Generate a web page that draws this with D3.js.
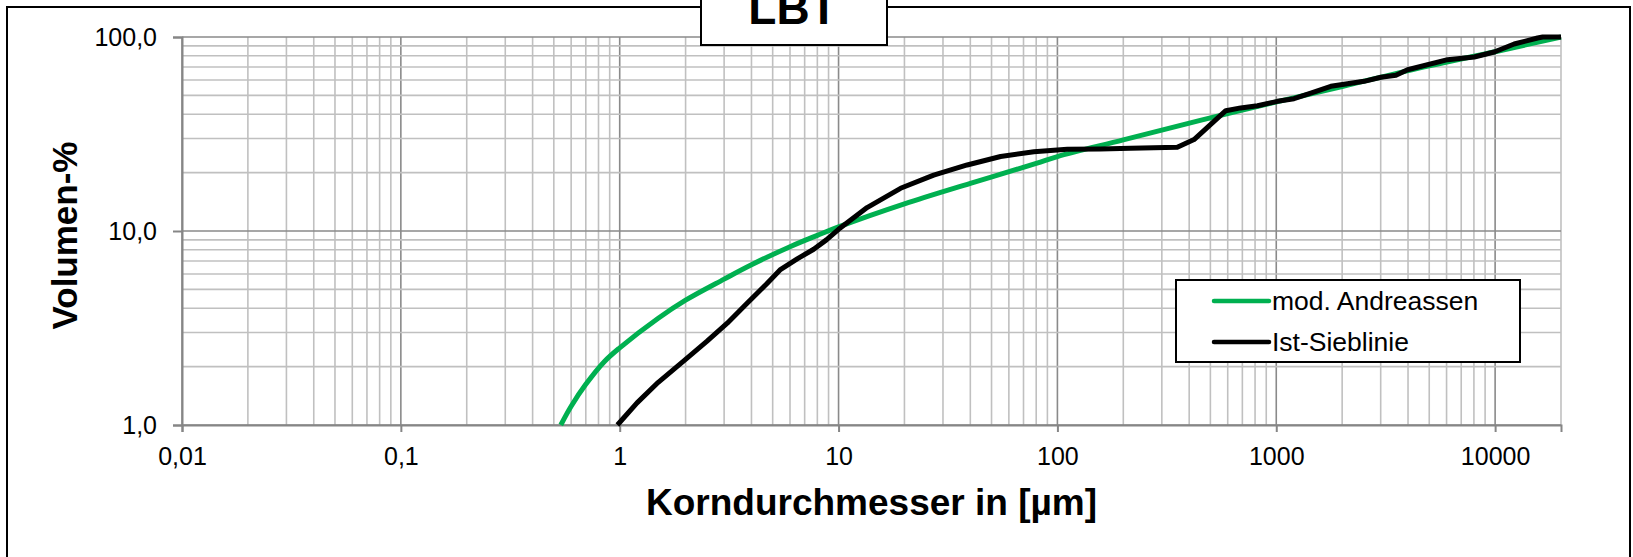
<!DOCTYPE html>
<html>
<head>
<meta charset="utf-8">
<script src="https://cdn.jsdelivr.net/npm/d3@7"></script>
<style>
  body { margin: 0; background: #fff; }
  svg { display: block; font-family: "Liberation Sans", Arial, sans-serif; }
</style>
</head>
<body>
<script>
// grain size [µm] / volume-%
const andreassenSize = [0.538, 0.6, 0.7, 0.85, 1.0, 1.5, 2.0, 3.0, 4.0, 6.0, 8.0, 10, 20, 40, 80, 100, 200, 600, 2000, 5000, 10000, 20000];
const andreassenVol  = [1.0, 1.25, 1.62, 2.12, 2.5, 3.55, 4.4, 5.65, 6.7, 8.3, 9.5, 10.5, 13.8, 17.6, 22.3, 24.2, 29.5, 40.3, 55.6, 71.0, 84.0, 100];

const siebSize = [0.976, 1.2, 1.5, 2.0, 2.5, 3.1, 3.8, 4.7, 5.4, 6.5, 7.7, 8.8, 10, 13.5, 19.2, 27.2, 38.7, 55, 78.1, 111, 157, 216, 353, 421, 588, 688, 821, 1012, 1205, 1438, 1775, 2519, 3006, 3521, 3981, 6067, 8030, 9910, 12220, 15630, 16500, 20000];
const siebVol  = [1.0, 1.3, 1.66, 2.18, 2.7, 3.35, 4.22, 5.35, 6.3, 7.2, 8.05, 9.0, 10.2, 13.2, 16.6, 19.4, 21.9, 24.2, 25.6, 26.4, 26.5, 26.7, 27.0, 29.6, 41.7, 43.1, 44.2, 46.6, 48.1, 51.4, 55.7, 59.1, 62.0, 63.5, 67.8, 76.4, 78.9, 83.7, 92.0, 98.8, 100, 100];

const seriesNames = ["mod. Andreassen", "Ist-Sieblinie"];
const xTicks = [0.01, 0.1, 1, 10, 100, 1000, 10000];
const yTicks = [1, 10, 100];

const width = 1633, height = 557;
const plotL = 182, plotR = 1561, plotT = 37, plotB = 425;

const svg = d3.select("body").append("svg")
  .attr("width", width)
  .attr("height", height);

// outer frame
svg.append("rect")
  .attr("x", 7).attr("y", 7)
  .attr("width", 1623).attr("height", 620)
  .attr("fill", "#fff")
  .attr("stroke", "#000")
  .attr("stroke-width", 2);

const x = d3.scaleLog().domain([0.01, 20000]).range([plotL, plotR]);
const y = d3.scaleLog().domain([1, 100]).range([plotB, plotT]);

const isMajor = v => Math.abs(Math.log10(v) - Math.round(Math.log10(v))) < 1e-9;

// grid
const grid = svg.append("g");
grid.selectAll("line.vx")
  .data(x.ticks())
  .join("line")
  .attr("x1", d => x(d)).attr("x2", d => x(d))
  .attr("y1", plotT).attr("y2", plotB)
  .attr("stroke", d => isMajor(d) ? "#8a8a8a" : "#c0c0c0")
  .attr("stroke-width", 1.6);

grid.selectAll("line.hy")
  .data(y.ticks())
  .join("line")
  .attr("x1", plotL).attr("x2", plotR)
  .attr("y1", d => y(d)).attr("y2", d => y(d))
  .attr("stroke", d => isMajor(d) ? "#8a8a8a" : "#c0c0c0")
  .attr("stroke-width", 1.6);

// axes
const loc = d3.formatLocale({ decimal: ",", thousands: ".", grouping: [3], currency: ["", "€"] });

const xAxis = svg.append("g")
  .attr("transform", `translate(0,${plotB})`)
  .call(d3.axisBottom(x).tickValues(xTicks).tickFormat(loc.format("~f")).tickSize(7).tickPadding(15));

const yAxis = svg.append("g")
  .attr("transform", `translate(${plotL},0)`)
  .call(d3.axisLeft(y).tickValues(yTicks).tickFormat(loc.format(".1f")).tickSize(9).tickPadding(16));

[xAxis, yAxis].forEach(a => {
  a.attr("font-family", null).attr("font-size", null);
  a.select(".domain").attr("stroke", "#868686").attr("stroke-width", 2);
  a.selectAll(".tick line").attr("stroke", "#868686").attr("stroke-width", 2);
  a.selectAll(".tick text").attr("fill", "#000").style("font-size", "25px");
});

// series
svg.append("clipPath").attr("id", "plotclip")
  .append("rect").attr("x", plotL - 3).attr("y", plotT - 3)
  .attr("width", plotR - plotL + 6).attr("height", plotB - plotT + 6);

const green = andreassenSize.map((d, i) => [d, andreassenVol[i]]);
const black = siebSize.map((d, i) => [d, siebVol[i]]);

const plot = svg.append("g").attr("clip-path", "url(#plotclip)");

plot.append("path")
  .datum(green)
  .attr("fill", "none")
  .attr("stroke", "#00b050")
  .attr("stroke-width", 5)
  .attr("d", d3.line().x(d => x(d[0])).y(d => y(d[1])).curve(d3.curveCatmullRom.alpha(0.5)));

plot.append("path")
  .datum(black)
  .attr("fill", "none")
  .attr("stroke", "#000")
  .attr("stroke-width", 5)
  .attr("stroke-linejoin", "round")
  .attr("d", d3.line().x(d => x(d[0])).y(d => y(d[1])));

// axis titles
svg.append("text")
  .attr("x", (plotL + plotR) / 2)
  .attr("y", 515)
  .attr("text-anchor", "middle")
  .attr("font-weight", "bold")
  .attr("font-size", 37)
  .text("Korndurchmesser in [µm]");

svg.append("text")
  .attr("transform", `translate(77,${(141 + 330) / 2}) rotate(-90)`)
  .attr("text-anchor", "middle")
  .attr("font-weight", "bold")
  .attr("font-size", 35)
  .text("Volumen-%");

// title box (cut off at the top, as in the source)
svg.append("rect")
  .attr("x", 701).attr("y", -10)
  .attr("width", 186).attr("height", 55)
  .attr("fill", "#fff")
  .attr("stroke", "#000")
  .attr("stroke-width", 2);

svg.append("text")
  .attr("x", 793)
  .attr("y", 24)
  .attr("text-anchor", "middle")
  .attr("font-weight", "bold")
  .attr("font-size", 46)
  .text("LBT");

// legend
const legend = svg.append("g");
legend.append("rect")
  .attr("x", 1176).attr("y", 280)
  .attr("width", 344).attr("height", 82)
  .attr("fill", "#fff")
  .attr("stroke", "#000")
  .attr("stroke-width", 2);

const colors = ["#00b050", "#000"];
const items = legend.selectAll("g.item")
  .data(seriesNames)
  .join("g")
  .attr("transform", (_, i) => `translate(0,${301 + i * 41})`);

items.append("line")
  .attr("x1", 1214).attr("x2", 1269)
  .attr("stroke", (_, i) => colors[i])
  .attr("stroke-width", 4.5)
  .attr("stroke-linecap", "round");

items.append("text")
  .attr("x", 1272)
  .attr("y", 9)
  .attr("font-size", 26.5)
  .text(d => d);
</script>
</body>
</html>
